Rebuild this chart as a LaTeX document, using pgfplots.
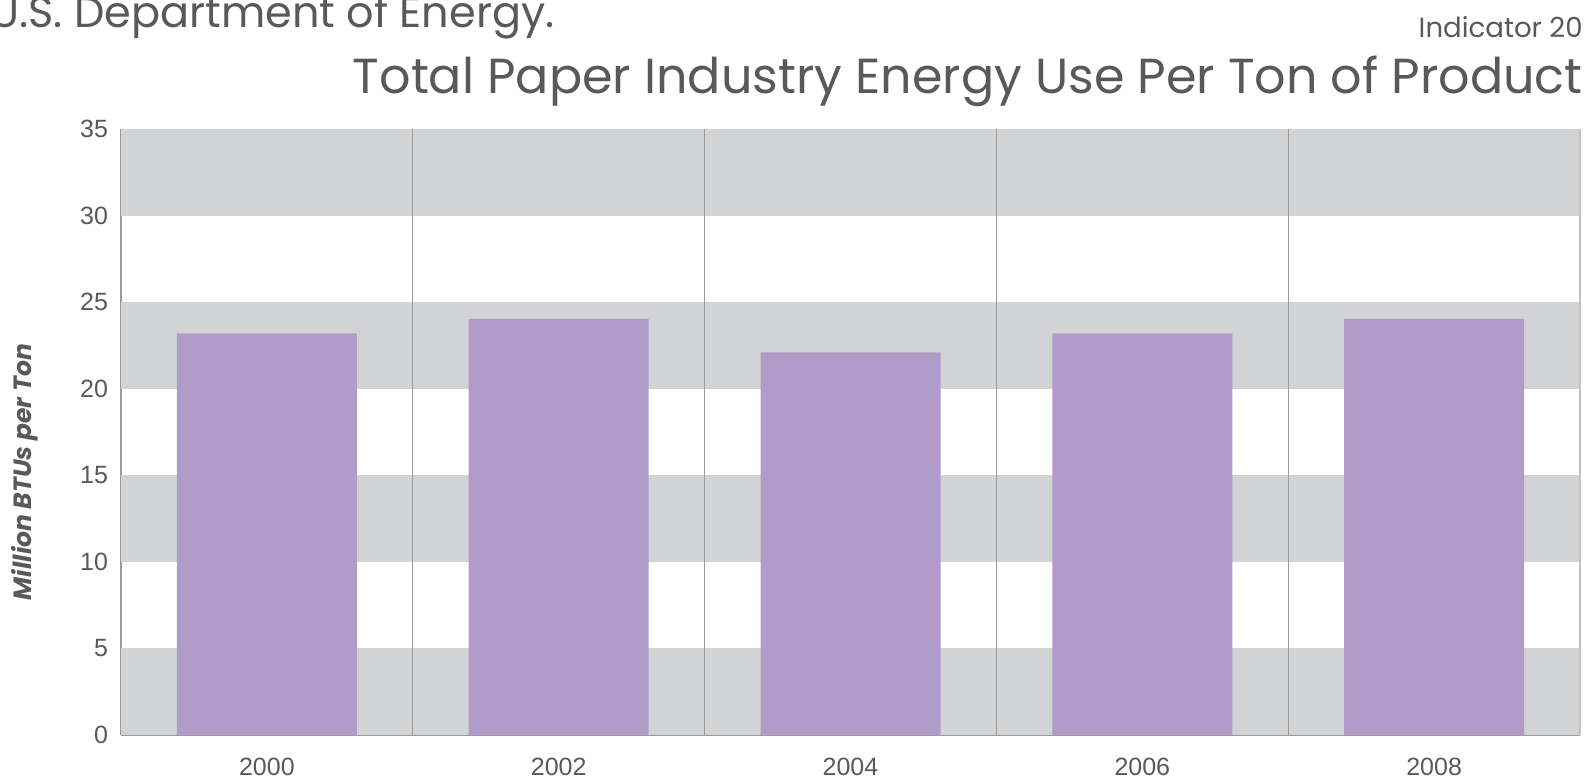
\documentclass[border=0pt]{standalone}
\usepackage{pgfplots}
\pgfplotsset{compat=1.18}
\usepackage{fontspec}
\setmainfont{Liberation Sans}
\newfontfamily\futura{Poppins}
\definecolor{txt}{HTML}{58595B}
\definecolor{band}{HTML}{D1D3D4}
\definecolor{barc}{HTML}{B19CC9}
\definecolor{gridc}{HTML}{9A9A9A}
\begin{document}
\begin{tikzpicture}
\useasboundingbox (0,0) rectangle (795.5pt,389pt);
\node[anchor=base west,inner sep=0pt,text=txt,font=\futura\fontsize{21.5}{24}\selectfont] at (-5pt,375pt) {U.S. Department of Energy.};
\node[anchor=base east,inner sep=0pt,text=txt,font=\futura\fontsize{13.8}{16}\selectfont] at (791.5pt,370pt) {Indicator 20};
\node[anchor=base east,inner sep=0pt,text=txt,font=\futura\fontsize{24.6}{28}\selectfont] at (791.5pt,342.3pt) {Total Paper Industry Energy Use Per Ton of Product};
\begin{axis}[
  at={(60.5pt,21.5pt)}, anchor=south west,
  scale only axis, width=729.5pt, height=303pt,
  xmin=-0.5, xmax=4.5, ymin=0, ymax=35,
  xtick={0,1,2,3,4}, xticklabels={2000,2002,2004,2006,2008},
  ytick={0,5,...,35},
  major tick length=0pt,
  axis line style={gridc, line width=0.8pt},
  axis x line*=bottom, axis y line*=left,
  tick label style={text=txt, font=\fontsize{12.5}{14}\selectfont},
  /pgf/number format/assume math mode=true,
  yticklabel style={xshift=-3pt},
  xticklabel style={yshift=-8pt},
  ylabel={\futura\bfseries\itshape Million BTUs per Ton},
  ylabel style={text=txt, font=\fontsize{12.5}{14}\selectfont, at={(ticklabel cs:0.5)}, xshift=-20pt, yshift=14pt},
  ybar, bar width=90pt,
  clip=false,
]
\fill[band] (axis cs:-0.5,0) rectangle (axis cs:4.5,5);
\fill[band] (axis cs:-0.5,10) rectangle (axis cs:4.5,15);
\fill[band] (axis cs:-0.5,20) rectangle (axis cs:4.5,25);
\fill[band] (axis cs:-0.5,30) rectangle (axis cs:4.5,35);
\draw[gridc, line width=0.6pt] (axis cs:0.5,0) -- (axis cs:0.5,35);
\draw[gridc, line width=0.6pt] (axis cs:1.5,0) -- (axis cs:1.5,35);
\draw[gridc, line width=0.6pt] (axis cs:2.5,0) -- (axis cs:2.5,35);
\draw[gridc, line width=0.6pt] (axis cs:3.5,0) -- (axis cs:3.5,35);
\draw[gridc!60, line width=0.6pt] (axis cs:4.5,0) -- (axis cs:4.5,35);
\addplot[fill=barc, draw=none, bar shift=0pt] coordinates {(0,23.2) (1,24.03) (2,22.1) (3,23.2) (4,24.03)};
\end{axis}
\end{tikzpicture}
\end{document}
